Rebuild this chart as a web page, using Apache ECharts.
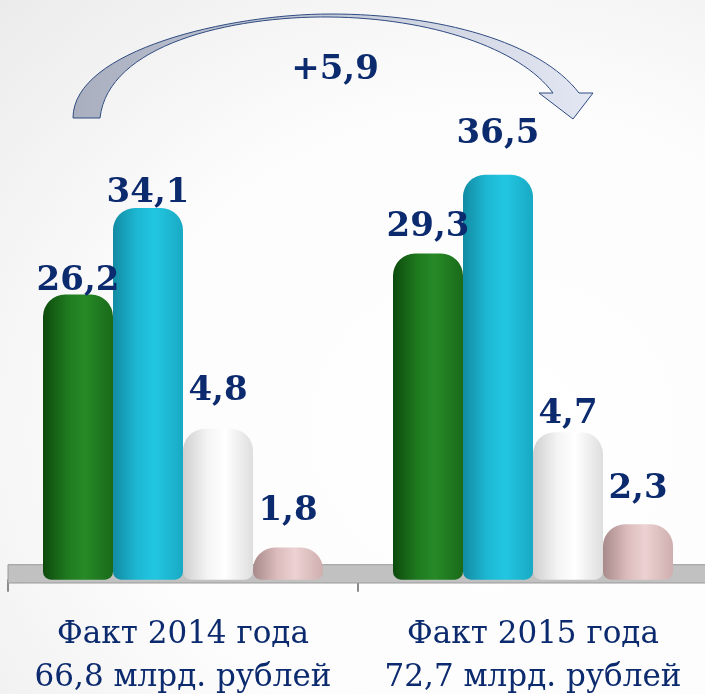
<!DOCTYPE html>
<html>
<head>
<meta charset="utf-8">
<script src="https://cdn.jsdelivr.net/npm/echarts@6/dist/echarts.min.js"></script>
<style>
  html, body { margin: 0; padding: 0; }
  #chart {
    width: 705px; height: 694px;
    background: radial-gradient(ellipse at 70% 62%, #ffffff 0%, #fcfcfc 55%, #ebebeb 100%);
  }
</style>
</head>
<body>
<div id="chart"></div>
<script>
// данные
const years = ['2014', '2015'];
const totals = [66.8, 72.7];

// подписи над столбцами
const greenValues = [26.2, 29.3];
const cyanValues = [34.1, 36.5];
const whiteValues = [4.8, 4.7];
const pinkValues = [1.8, 2.3];

// высоты столбцов, как они нарисованы на картинке (в единицах оси)
const greenHeights = [25.7, 29.4];
const cyanHeights = [33.5, 36.5];
const whiteHeights = [13.6, 13.3];
const pinkHeights = [2.9, 5.0];

const NAVY = '#0c2a6e';
const fmt = (v) => v.toFixed(1).replace('.', ',');

const categories = years.map((y, i) => 'Факт ' + y + ' года\n' + fmt(totals[i]) + ' млрд. рублей');

// горизонтальный градиент "цилиндра"
const cyl = (dark, mid, light, edge) => new echarts.graphic.LinearGradient(0, 0, 1, 0, [
  { offset: 0, color: dark },
  { offset: 0.35, color: mid },
  { offset: 0.6, color: light },
  { offset: 1, color: edge },
]);

const styles = [
  { name: 'green', values: greenValues, heights: greenHeights, gaps: [-4, 9], color: cyl('#0d4a0d', '#1f7a1f', '#268a26', '#1a6a1a') },
  { name: 'cyan', values: cyanValues, heights: cyanHeights, gaps: [-2, 24], color: cyl('#138ba3', '#1db8d4', '#22c6e0', '#19a9c4') },
  { name: 'white', values: whiteValues, heights: whiteHeights, gaps: [21, 1], color: cyl('#cfcfcf', '#f4f4f4', '#ffffff', '#dedede') },
  { name: 'pink', values: pinkValues, heights: pinkHeights, gaps: [19, 18], color: cyl('#a88a8a', '#dcbcbc', '#ecd2d2', '#cfaeae') },
];

const series = styles.map((s, si) => {
  const ser = {
    type: 'bar',
    name: s.name,
    barWidth: 70,
    barGap: '0%',
    data: s.heights.map((h, i) => ({
      value: h,
      label: { distance: s.gaps[i] },
    })),
    itemStyle: {
      color: s.color,
      borderRadius: [22, 22, 8, 8],
    },
    label: {
      show: true,
      position: 'top',
      fontFamily: 'DejaVu Serif',
      fontWeight: 'bold',
      fontSize: 34,
      color: NAVY,
      formatter: (p) => fmt(s.values[p.dataIndex]),
    },
    z: 3,
  };
  if (si === 0) {
    // "пол" диаграммы
    ser.markArea = {
      silent: true,
      itemStyle: { color: '#c1c1c1', borderColor: '#999999', borderWidth: 1 },
      data: [[{ yAxis: -0.3 }, { yAxis: 1.35 }]],
    };
  }
  return ser;
});

// изогнутая стрелка сверху
const ARROW_PATH = 'M 73 118 C 73 50 230 14 330 14 C 440 14 540 42 579 93 L 593 93 L 573 119 L 539 93 L 553 93 C 520 48 430 18 330 17 C 230 16 108 45 100 118 Z';

series.push({
  type: 'custom',
  coordinateSystem: 'none',
  silent: true,
  data: [0],
  z: 10,
  renderItem: () => ({
    type: 'path',
    shape: { pathData: ARROW_PATH },
    style: {
      fill: new echarts.graphic.LinearGradient(0, 0, 1, 0, [
        { offset: 0, color: '#a9afbf' },
        { offset: 1, color: '#e3e7f3' },
      ]),
      stroke: '#2e4a80',
      lineWidth: 1,
    },
  }),
});

const chart = echarts.init(document.getElementById('chart'));

chart.setOption({
  animation: false,
  grid: { left: 8, right: -3, top: 136, bottom: 111, outerBoundsMode: 'none', containLabel: false },
  xAxis: {
    type: 'category',
    data: categories,
    axisLine: { lineStyle: { color: '#999999', width: 1 } },
    axisTick: { show: true, length: 12, lineStyle: { color: '#8a8a8a', width: 2 } },
    axisLabel: {
      interval: 0,
      margin: 30,
      fontFamily: 'DejaVu Serif',
      fontSize: 31,
      lineHeight: 43,
      color: NAVY,
    },
  },
  yAxis: {
    type: 'value',
    min: -0.3,
    max: 40,
    show: false,
    splitLine: { show: false },
  },
  series: series,
  graphic: [
    {
      type: 'text',
      x: 335,
      y: 70,
      style: {
        text: '+' + fmt(totals[1] - totals[0]),
        fontFamily: 'DejaVu Serif',
        fontWeight: 'bold',
        fontSize: 34,
        fill: NAVY,
        align: 'center',
        verticalAlign: 'middle',
      },
      z: 10,
    },
  ],
});
</script>
</body>
</html>
